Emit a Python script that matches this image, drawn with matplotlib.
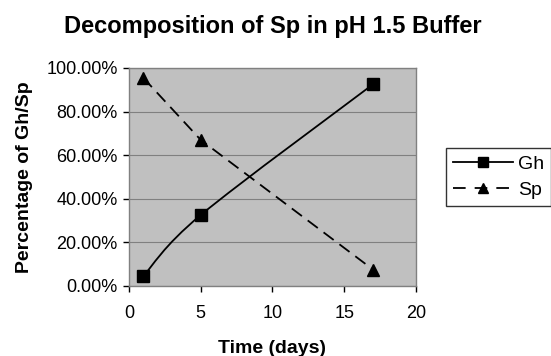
import matplotlib
matplotlib.use("Agg")
import matplotlib.pyplot as plt
from matplotlib.path import Path
from matplotlib.patches import PathPatch
from matplotlib.lines import Line2D
from matplotlib.ticker import FuncFormatter, MultipleLocator

plt.rcParams['font.family'] = ['Liberation Sans', 'DejaVu Sans']

days = [1, 5, 17]
gh = [4.5, 32.5, 92.5]
sp = [95.5, 67.0, 7.5]

title = "Decomposition of Sp in pH 1.5 Buffer"
xlabel = "Time (days)"
ylabel = "Percentage of Gh/Sp"
series_names = ["Gh", "Sp"]

fig = plt.figure(figsize=(5.51, 3.56), dpi=100)
ax = fig.add_axes([0.234, 0.197, 0.521, 0.612])
ax.set_facecolor('#C0C0C0')
ax.set_xlim(0, 20)
ax.set_ylim(0, 100)
ax.yaxis.set_major_locator(MultipleLocator(20))
ax.xaxis.set_major_locator(MultipleLocator(5))
ax.yaxis.set_major_formatter(FuncFormatter(lambda v, p: f"{v:.2f}%"))
ax.grid(axis='y', color='#808080', linewidth=0.8)
ax.set_axisbelow(True)
for s in ax.spines.values():
    s.set_color('#808080')
    s.set_linewidth(1.0)
ax.tick_params(axis='both', direction='out', length=4, width=1, color='black',
               labelsize=13, pad=4)
ax.tick_params(axis='x', pad=10)

# Smoothed (Excel-style) curve for Gh via cubic Bezier through data points
def smooth_path(xs, ys):
    pts = list(zip(xs, ys))
    verts = [pts[0]]
    codes = [Path.MOVETO]
    n = len(pts)
    for i in range(n - 1):
        p0 = pts[i - 1] if i > 0 else pts[i]
        p1 = pts[i]
        p2 = pts[i + 1]
        p3 = pts[i + 2] if i + 2 < n else pts[i + 1]
        c1 = (p1[0] + (p2[0] - p0[0]) / 6, p1[1] + (p2[1] - p0[1]) / 6)
        c2 = (p2[0] - (p3[0] - p1[0]) / 6, p2[1] - (p3[1] - p1[1]) / 6)
        verts += [c1, c2, p2]
        codes += [Path.CURVE4] * 3
    return Path(verts, codes)

ax.add_patch(PathPatch(smooth_path(days, gh), facecolor='none', edgecolor='black',
                       linewidth=1.3, zorder=3))
ax.plot(days, gh, linestyle='none', marker='s', markersize=8, color='black', zorder=4,
        clip_on=False)
ax.plot(days, sp, linestyle=(0, (7, 4)), linewidth=1.3, marker='^', markersize=8,
        color='black', zorder=4, clip_on=False)

ax.set_title(title, fontsize=17, fontweight='bold', pad=25)
ax.set_xlabel(xlabel, fontsize=14, fontweight='bold', labelpad=13)
ax.set_ylabel(ylabel, fontsize=14, fontweight='bold', labelpad=10)

handles = [Line2D([], [], color='black', linewidth=1.3, marker='s', markersize=7),
           Line2D([], [], color='black', linewidth=1.3, linestyle=(0, (7, 5)), marker='^',
                  markersize=7)]
leg = fig.legend(handles, series_names, loc='upper left', bbox_to_anchor=(0.8094, 0.584),
                 fontsize=14, frameon=True, fancybox=False, edgecolor='black',
                 borderpad=0.35, handlelength=3.1, handletextpad=0.25, labelspacing=0.45,
                 borderaxespad=0)
leg.get_frame().set_linewidth(1.0)

fig.savefig("out.png", dpi=100)
